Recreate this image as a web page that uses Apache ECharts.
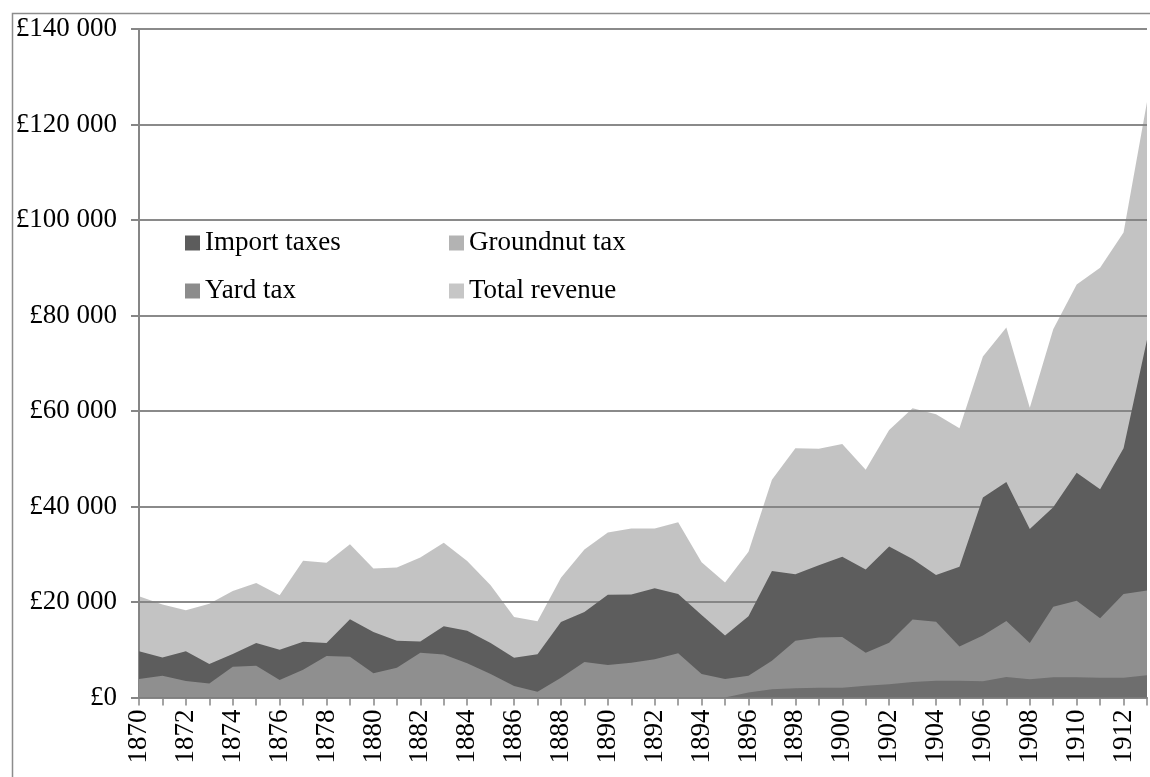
<!DOCTYPE html>
<html>
<head>
<meta charset="utf-8">
<script src="https://cdn.jsdelivr.net/npm/echarts@6/dist/echarts.min.js"></script>
<style>
html,body{margin:0;padding:0;background:#fff;}
#chart{width:1150px;height:777px;}
</style>
</head>
<body>
<div id="chart"></div>
<script>
// ---- data ----
const years = [];
for (let y = 1870; y <= 1913; y++) years.push(String(y));

const totalRevenue = [
  21200,19500,18250,19650,22300,24000,21400,28650,28200,32100,
  27000,27200,29300,32400,28600,23500,16850,15950,25100,31000,
  34550,35400,35400,36700,28300,24100,30500,45600,52200,52100,
  53100,47700,56000,60600,59300,56400,71400,77500,60700,77100,
  86500,90000,97400,124700
];
const importTaxes = [
  9700,8400,9700,7000,9100,11400,10000,11700,11400,16400,
  13700,11900,11750,14900,14000,11400,8350,9050,15800,17900,
  21500,21550,22900,21700,17300,13000,17000,26500,25800,27700,
  29500,26800,31600,29000,25650,27400,41900,45150,35300,39850,
  47050,43600,52200,74900
];
const yardTax = [
  3900,4550,3450,2950,6450,6650,3650,5800,8700,8550,
  5100,6250,9350,9000,7150,4900,2400,1200,4150,7450,
  6800,7300,8000,9250,4900,3850,4550,7700,11900,12550,
  12650,9350,11450,16350,15850,10700,13000,16000,11400,19000,
  20250,16600,21650,22400
];
const groundnutTax = [
  null,null,null,null,null,null,null,null,null,null,
  null,null,null,null,null,null,null,null,null,null,
  null,null,null,null,null,0,1050,1750,1950,2050,
  2050,2450,2800,3250,3500,3500,3400,4300,3800,4250,
  4250,4150,4150,4650
];
const yTicks = [0,20000,40000,60000,80000,100000,120000,140000];

// ---- chart ----
const FONT = '"Liberation Serif","Times New Roman",serif';
const FS = 27;
const chart = echarts.init(document.getElementById('chart'), null, {renderer:'canvas'});

function fmt(v){
  const s = String(Math.round(v));
  return '£' + s.replace(/\B(?=(\d{3})+(?!\d))/g, ' ');
}

function areaSeries(name, data, legendColor, areaColor, opacity, z){
  return {
    name, type:'line', data,
    symbol:'none', showSymbol:false,
    lineStyle:{width:0},
    itemStyle:{color:legendColor},
    areaStyle:{color:areaColor, opacity:opacity, origin:'start'},
    z, connectNulls:false, silent:true
  };
}

chart.setOption({
  animation:false,
  backgroundColor:'#fff',
  textStyle:{fontFamily:FONT, color:'#000'},
  graphic:[{
    type:'polyline',
    shape:{points:[[12.5,777],[12.5,13.5],[1150,13.5]]},
    style:{stroke:'#8c8c8c', lineWidth:1.5, fill:null},
    z:100
  }],
  grid:{left:139, top:29, right:3, bottom:79.5, containLabel:false},
  legend:[{
    data:['Import taxes','Yard tax'],
    orient:'vertical', left:180, top:224,
    itemWidth:15, itemHeight:15, itemGap:20, icon:'rect',
    textStyle:{fontFamily:FONT, fontSize:FS, color:'#000', lineHeight:28},
    selectedMode:false
  },{
    data:['Groundnut tax','Total revenue'],
    orient:'vertical', left:444, top:224,
    itemWidth:15, itemHeight:15, itemGap:20, icon:'rect',
    textStyle:{fontFamily:FONT, fontSize:FS, color:'#000', lineHeight:28},
    selectedMode:false
  }],
  xAxis:{
    type:'category', data:years, boundaryGap:false,
    axisLine:{show:true, lineStyle:{color:'#868686', width:2}},
    axisTick:{show:true, interval:0, length:8, lineStyle:{color:'#868686', width:1.5}},
    axisLabel:{interval:1, rotate:90, margin:12, fontFamily:FONT, fontSize:FS, color:'#000'},
    splitLine:{show:false}
  },
  yAxis:{
    type:'value', min:0, max:140000, interval:20000,
    axisLine:{show:true, lineStyle:{color:'#868686', width:2}},
    axisTick:{show:true, length:8, lineStyle:{color:'#868686', width:2}},
    axisLabel:{margin:22, fontFamily:FONT, fontSize:FS, color:'#000', formatter:fmt},
    splitLine:{show:true, lineStyle:{color:'#8a8a8a', width:2}}
  },
  series:[
    areaSeries('Total revenue', totalRevenue, '#c6c6c6', '#828282', 0.48, 1),
    areaSeries('Import taxes', importTaxes, '#5c5c5c', '#5d5d5d', 1, 2),
    areaSeries('Yard tax', yardTax, '#8c8c8c', '#8f8f8f', 1, 3),
    areaSeries('Groundnut tax', groundnutTax, '#b3b3b3', '#6e6e6e', 1, 4)
  ]
});
</script>
</body>
</html>
